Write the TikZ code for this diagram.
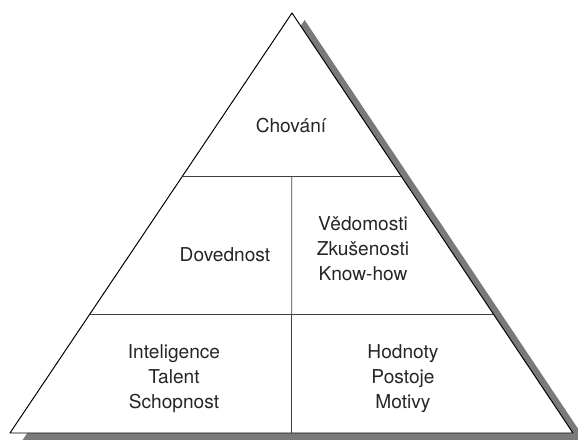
\documentclass[tikz,border=0pt]{standalone}
\usepackage{fontspec}
\setmainfont{TeX Gyre Heros}
\usetikzlibrary{calc}

\begin{document}
\begin{tikzpicture}[x=0.025cm, y=-0.025cm,
    layer text/.style={font=\fontsize{13.6}{17.7}\selectfont, align=center,
                       text=black!85, inner sep=0pt},
    divider/.style={draw=black!75, line width=0.55pt}]
  \useasboundingbox (0,0) rectangle (578,440);
  % Vrcholy pyramidy
  \coordinate (apex) at (292,13);
  \coordinate (left) at (10,433);
  \coordinate (right) at (573,433);
  % Stin vpravo a dole
  \fill[black!52] ($(apex)+(12.6,7)$) -- ($(right)+(12.6,7)$)
      -- ($(left)+(12.6,7)$) -- cycle;
  % Trojuhelnik
  \filldraw[fill=white, draw=black, line width=0.7pt, line join=round]
      (apex) -- (left) -- (right) -- cycle;
  % Hranice vrstev
  \coordinate (l1) at ($(apex)!0.388!(left)$);
  \coordinate (r1) at ($(apex)!0.388!(right)$);
  \coordinate (l2) at ($(apex)!0.717!(left)$);
  \coordinate (r2) at ($(apex)!0.717!(right)$);
  \coordinate (m1) at ($(l1)!0.5!(r1)$);
  \coordinate (m2) at ($(l2)!0.5!(r2)$);
  \draw[divider] (l1) -- (r1);
  \draw[divider] (l2) -- (r2);
  \draw[divider] (m1) -- (m2);
  \draw[divider] (m2) -- (m2 |- left);
  % Popisky
  \node[layer text] (chovani) at (291,126) {Chování};
  \node[layer text] (dovednost) at (225,255) {Dovednost};
  \node[layer text] (vedomosti) at (363,249) {Vědomosti\\Zkušenosti\\Know-how};
  \node[layer text] (inteligence) at (174,378.5) {Inteligence\\Talent\\Schopnost};
  \node[layer text] (hodnoty) at (403,378.5) {Hodnoty\\Postoje\\Motivy};
\end{tikzpicture}
\end{document}
